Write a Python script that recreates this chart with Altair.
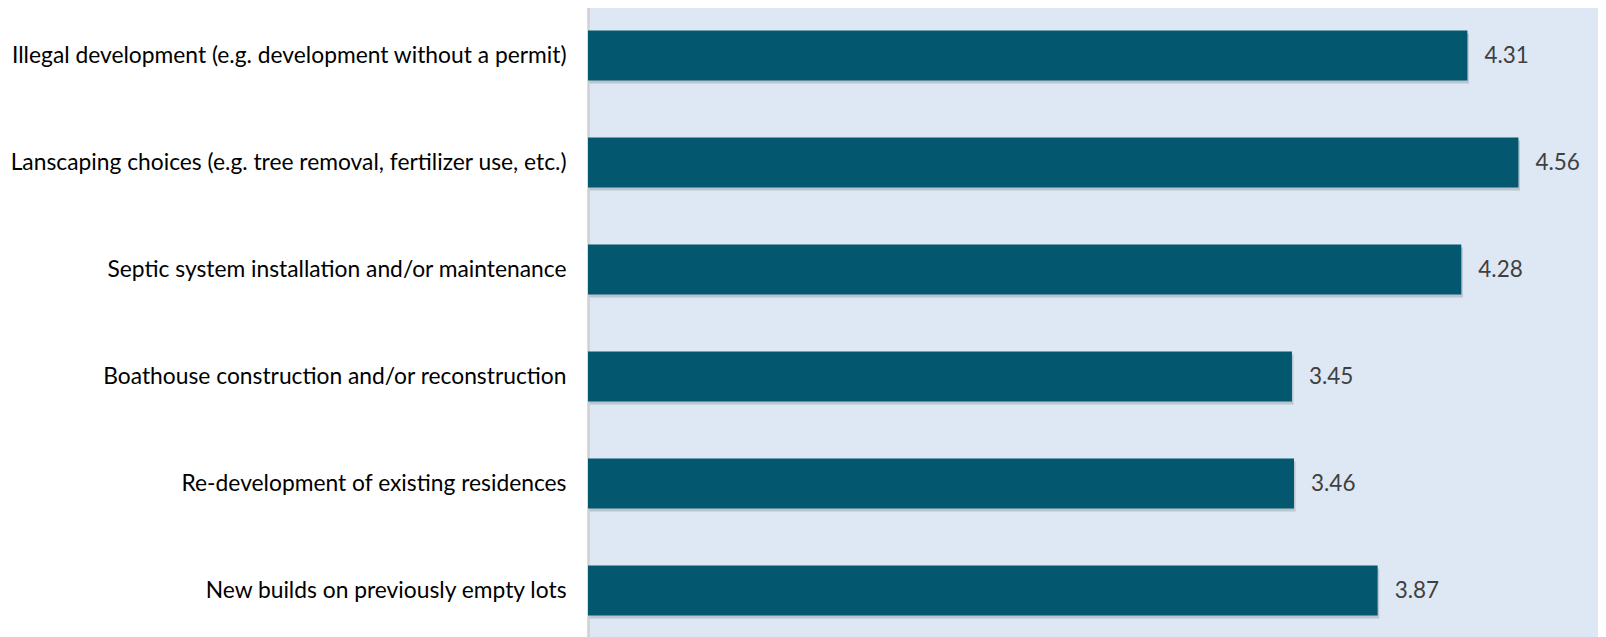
import altair as alt
import pandas as pd

categories = [
    "Illegal development (e.g. development without a permit)",
    "Lanscaping choices (e.g. tree removal, fertilizer use, etc.)",
    "Septic system installation and/or maintenance ",
    "Boathouse construction and/or reconstruction",
    "Re-development of existing residences",
    "New builds on previously empty lots",
]
values = [4.31, 4.56, 4.28, 3.45, 3.46, 3.87]

df = pd.DataFrame({"category": categories, "value": values})

FONT = "Lato"
BAR = "#03586F"
BG = "#DDE8F4"

y_enc = alt.Y(
    "category:N",
    sort=categories,
    title=None,
    scale=alt.Scale(range=[0, 642], paddingInner=0.533, paddingOuter=0.2665),
    axis=alt.Axis(
        ticks=False,
        labelPadding=22,
        labelFontSize=22.8,
        labelFont=FONT,
        labelColor="#000000",
        labelLimit=600,
        domainColor="#D0D0D0",
        domainWidth=2.5,
        grid=False,
    ),
)
x_enc = alt.X(
    "value:Q",
    title=None,
    scale=alt.Scale(domain=[0, 4.95], nice=False),
    axis=None,
)

base = alt.Chart(df)

shadow = base.mark_bar(color="#6b737a", opacity=0.3, xOffset=1.5, yOffset=3).encode(
    x=x_enc, y=y_enc
)
bars = base.mark_bar(color=BAR).encode(x=x_enc, y=y_enc)
labels = base.mark_text(
    align="left", baseline="middle", dx=17, fontSize=22.5, font=FONT, color="#404040"
).encode(x=x_enc, y=y_enc, text=alt.Text("value:Q", format=".2f"))

chart = (
    alt.layer(shadow, bars, labels)
    .properties(
        width=1010,
        height=640,
        autosize=alt.AutoSizeParams(type="none"),
        padding={"top": -6, "left": 580, "right": 0, "bottom": 0},
        background="#FFFFFF",
    )
    .configure_view(fill=BG, stroke=None)
)

chart.save("out.html", embed_options={"renderer": "svg", "actions": False})
